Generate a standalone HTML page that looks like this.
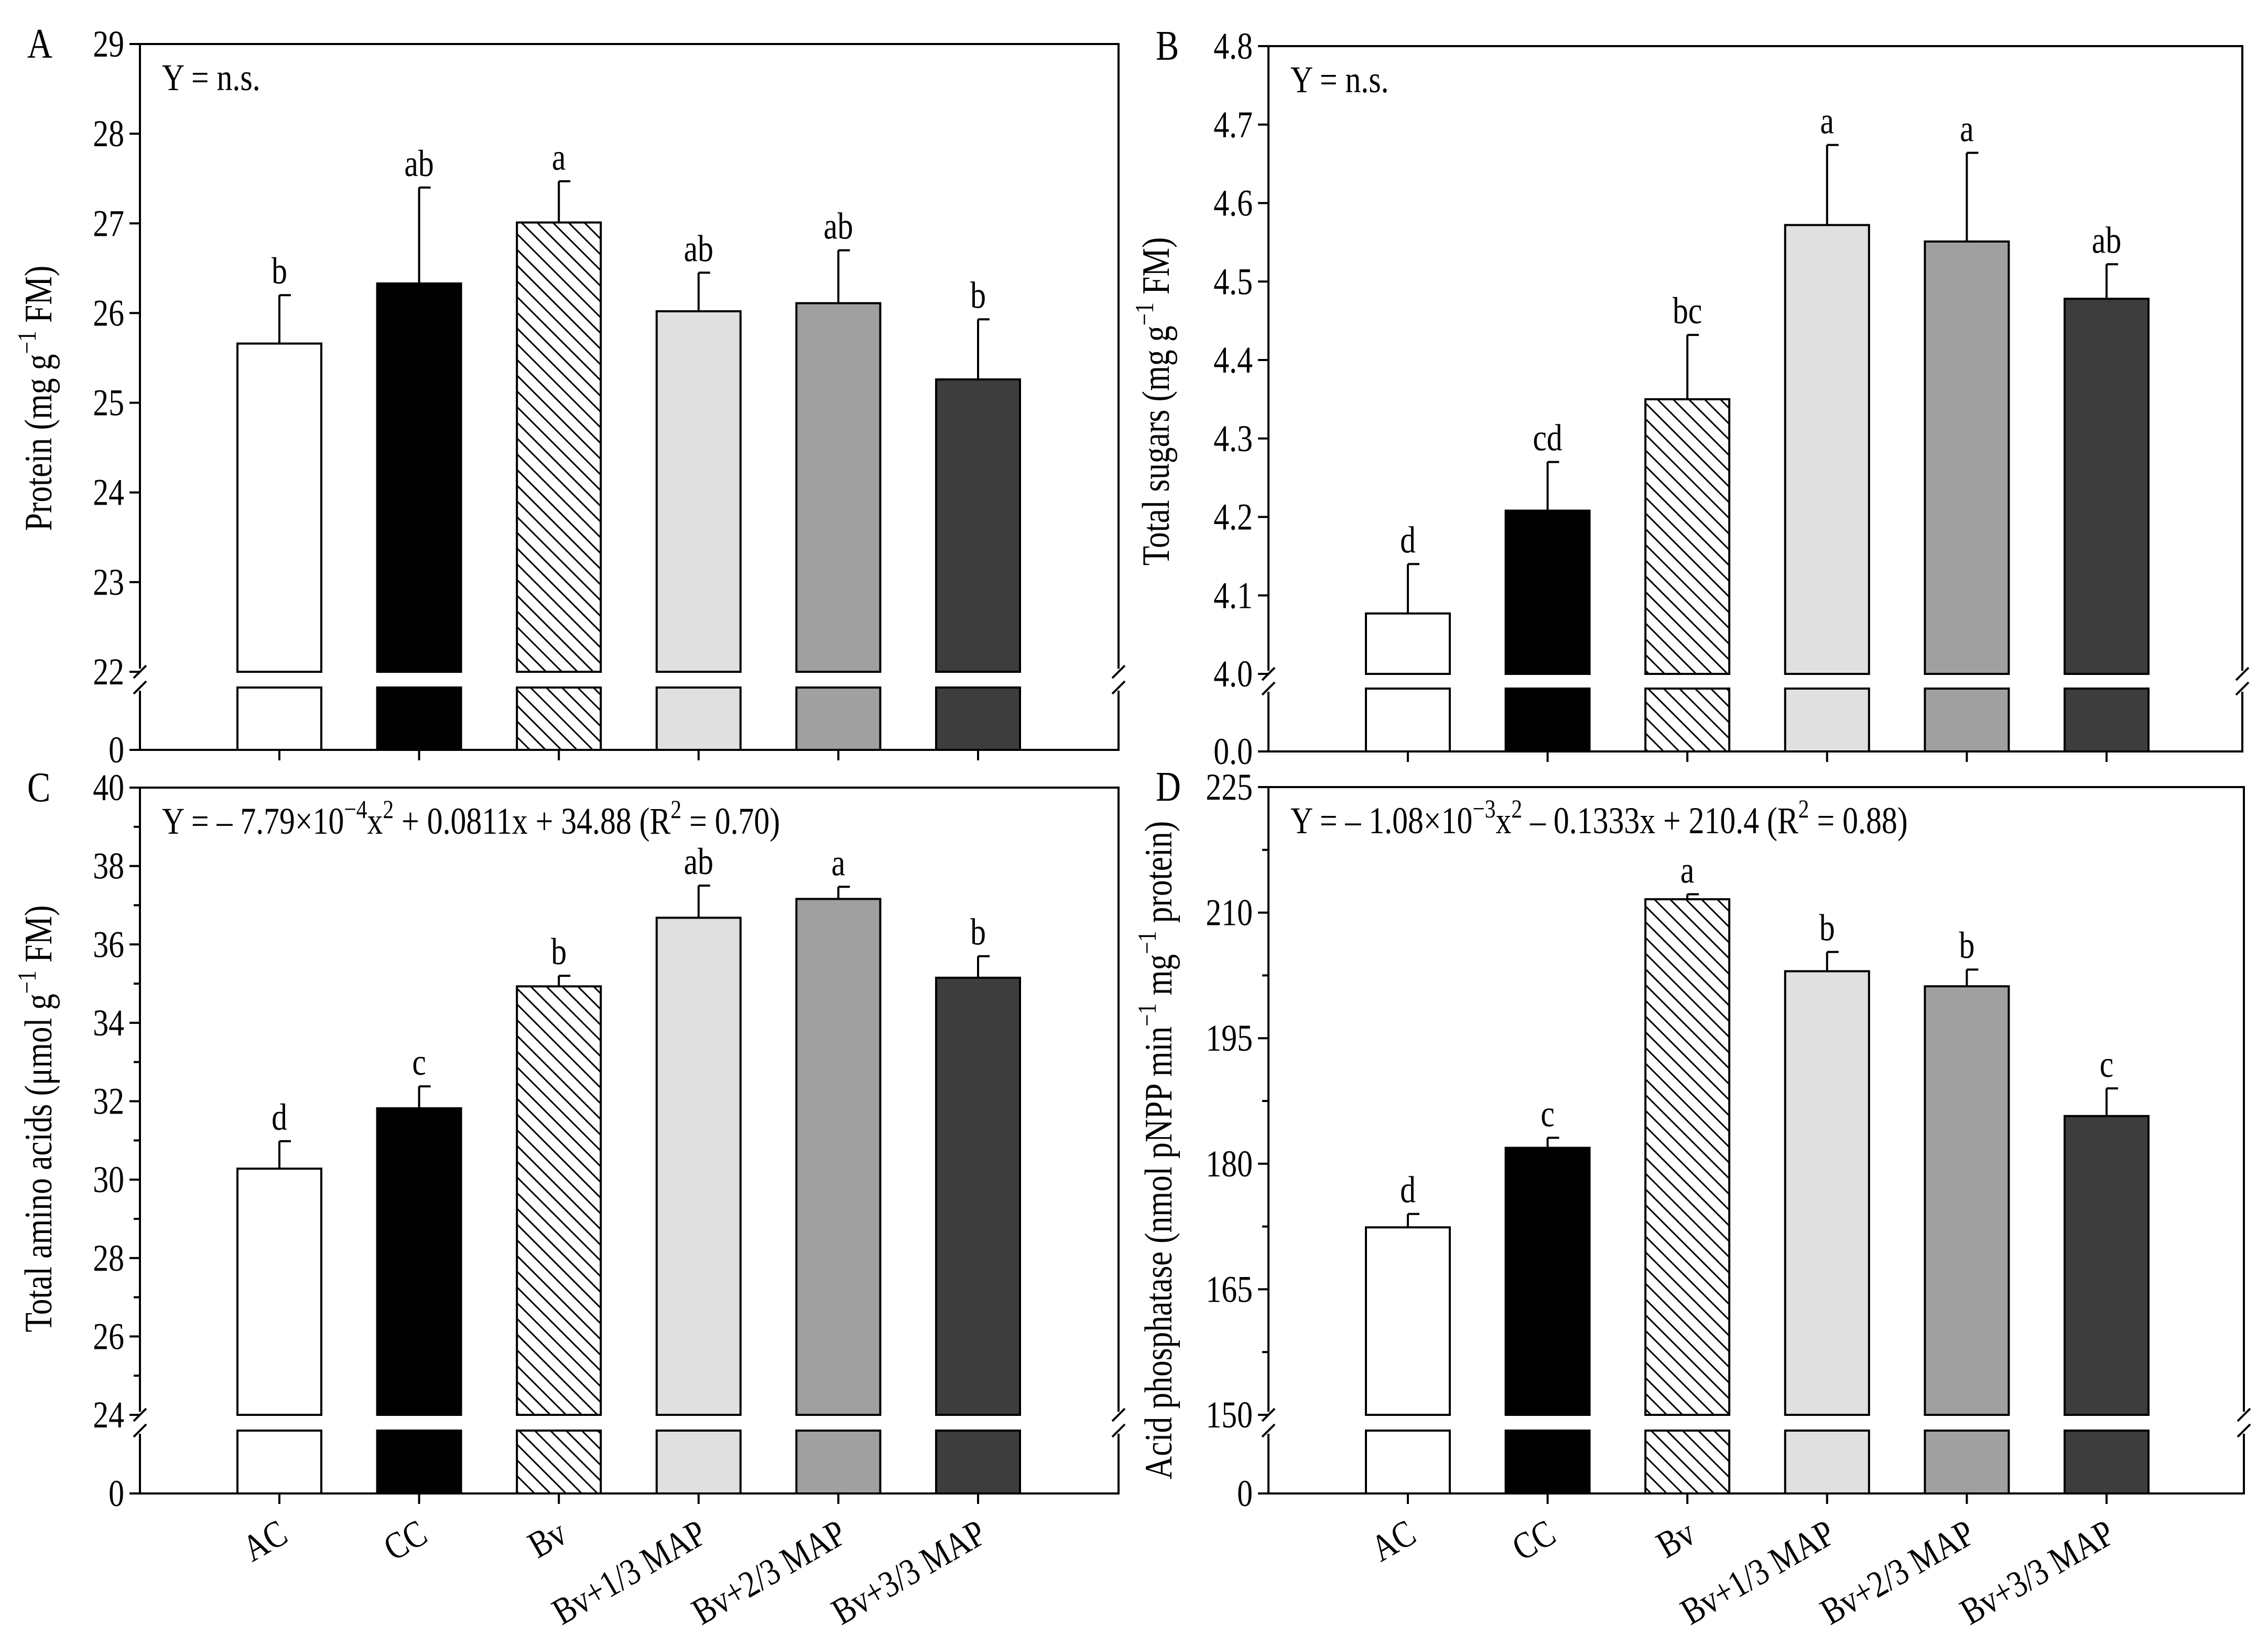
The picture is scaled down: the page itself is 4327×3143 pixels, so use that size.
<!DOCTYPE html>
<html><head><meta charset="utf-8"><style>
html,body{margin:0;padding:0;background:#fff}
svg{display:block;font-family:"Liberation Serif",serif}
</style></head><body>
<svg id="fig" width="4327" height="3143" viewBox="0 0 4327 3143" xmlns="http://www.w3.org/2000/svg">
<defs>
<pattern id="hatch" patternUnits="userSpaceOnUse" width="30" height="30">
<line x1="-5" y1="-5" x2="35" y2="35" stroke="#000" stroke-width="3"/>
<line x1="-35" y1="-5" x2="5" y2="35" stroke="#000" stroke-width="3"/>
<line x1="25" y1="-5" x2="65" y2="35" stroke="#000" stroke-width="3"/>
</pattern>
</defs>
</svg>
<script>
const categories = ["AC","CC","Bv","Bv+1/3 MAP","Bv+2/3 MAP","Bv+3/3 MAP"];
const proteinMeans = [25.66,26.33,27.01,26.02,26.11,25.26];
const proteinErr = [0.54,1.07,0.46,0.43,0.59,0.67];
const proteinLetters = ["b","ab","a","ab","ab","b"];
const sugarMeans = [4.077,4.208,4.350,4.572,4.551,4.478];
const sugarErr = [0.063,0.062,0.082,0.102,0.113,0.044];
const sugarLetters = ["d","cd","bc","a","a","ab"];
const aminoMeans = [30.28,31.82,34.93,36.68,37.16,35.15];
const aminoErr = [0.70,0.56,0.27,0.82,0.31,0.55];
const aminoLetters = ["d","c","b","ab","a","b"];
const phosMeans = [172.4,181.9,211.6,203.0,201.2,185.7];
const phosErr = [1.6,1.2,0.6,2.3,2.0,3.3];
const phosLetters = ["d","c","a","b","b","c"];
const proteinTicks = [22,23,24,25,26,27,28,29];
const sugarTicks = [4.0,4.1,4.2,4.3,4.4,4.5,4.6,4.7,4.8];
const aminoTicks = [24,26,28,30,32,34,36,38,40];
const aminoMinor = [25,27,29,31,33,35,37,39];
const phosTicks = [150,165,180,195,210,225];
const phosMinor = [157.5,172.5,187.5,202.5,217.5];

const fills = ["#ffffff","#000000","url(#hatch)","#e0e0e0","#a0a0a0","#3d3d3d"];
const NS = "http://www.w3.org/2000/svg";
const svg = document.getElementById('fig');
const FS = 72, SX = 0.83;
function el(tag, attrs, parent, text){
  const e = document.createElementNS(NS, tag);
  for (const k in attrs) e.setAttribute(k, attrs[k]);
  if (text !== undefined) e.textContent = text;
  (parent||svg).appendChild(e);
  return e;
}
function txt(parent, x, y, anchor, content, rot, size){
  const t = el('text', {x: 0, y: 0, 'font-size': size || FS, 'text-anchor': anchor,
    transform: `translate(${x} ${y}) rotate(${rot || 0}) scale(${SX} 1)`}, parent);
  t.innerHTML = content;
  return t;
}
const sup = s => `<tspan dy="-30" font-size="50">${s}</tspan>`;
const down = s => `<tspan dy="30">${s}</tspan>`;
function drawPanel(p){
  const g = el('g', {});
  
  
  const yv = v => p.yBrk - (v - p.min) / (p.max - p.min) * (p.yBrk - p.yTop);
  const xc = i => p.x0 + 266 + i * 266.6;
  const bw = 160;
  const sw = 4;
  p.means.forEach((m, i) => {
    const r = el('rect', {x: xc(i) - bw/2, y: yv(m), width: bw, height: p.yBrk - yv(m), fill: fills[i], stroke: '#000', 'stroke-width': sw}, g);
    
    
    const r2 = el('rect', {x: xc(i) - bw/2, y: p.yLow, width: bw, height: p.y0 - p.yLow, fill: fills[i], stroke: '#000', 'stroke-width': sw}, g);
    
    
    const top = yv(m + p.err[i]);
    const eb = el('path', {d: `M${xc(i)},${yv(m)}V${top}M${xc(i)},${top}h22`, stroke: '#000', 'stroke-width': 4, fill: 'none'}, g);
    
    
    const t = txt(g, xc(i), top - 22, 'middle', p.letters[i]);
    
    
  });
  const ax = el('path', {d: `M${p.x0},${p.yBrk - 6}V${p.yTop}H${p.x1}V${p.yBrk - 6}M${p.x0},${p.yLow + 6}V${p.y0}H${p.x1}V${p.yLow + 6}M${p.x0 - 20},${p.y0}H${p.x0}`, stroke: '#000', 'stroke-width': 4, fill: 'none'}, g);
  
  
  [p.x0, p.x1].forEach(x => {
    [p.yBrk, p.yLow].forEach(y => {
      const s = el('line', {x1: x - 12, y1: y + 12, x2: x + 12, y2: y - 12, stroke: '#000', 'stroke-width': 4}, g);
      
      
    });
  });
  p.ticks.forEach(v => {
    const y = yv(v);
    const tk = el('line', {x1: p.x0 - 20, y1: y, x2: p.x0, y2: y, stroke: '#000', 'stroke-width': 4}, g);
    
    
    const lb = txt(g, p.x0 - 30, y + 24, 'end', p.fmt(v));
    
    
  });
  (p.minor || []).forEach(v => {
    const y = yv(v);
    const tk = el('line', {x1: p.x0 - 12, y1: y, x2: p.x0, y2: y, stroke: '#000', 'stroke-width': 4}, g);
    
    
  });
  const z = txt(g, p.x0 - 30, p.y0 + 24, 'end', p.zero);
  
  
  categories.forEach((c, i) => {
    const tk = el('line', {x1: xc(i), y1: p.y0, x2: xc(i), y2: p.y0 + 20, stroke: '#000', 'stroke-width': 4}, g);
    
    
    if (p.xlabels) {
      const lb = txt(g, xc(i) + 20, p.y0 + 90, 'end', c, -30);
      
      
    }
  });
  const L = txt(g, p.x0 - 215, p.yTop + 26, 'start', p.letter, 0, 80);
  
  
  const eq = txt(g, p.x0 + 42, p.yTop + 88, 'start', p.eq);
  
  
  const yl = txt(g, p.labelX, p.labelY, 'middle', p.ylabel, -90, 74);
  
  
}
drawPanel({name:'panel-a-protein', letter:'A', x0:267, x1:2134, yTop:84, yBrk:1282, yLow:1312, y0:1431, min:22, max:29,
  means:proteinMeans, err:proteinErr, letters:proteinLetters, ticks:proteinTicks, fmt:v=>String(v), zero:'0',
  eq:'Y = n.s.', labelX:98, labelY:760, ylabel:`Protein (mg g${sup('−1')}${down(' FM)')}`});
drawPanel({name:'panel-b-sugars', letter:'B', x0:2420, x1:4278, yTop:88, yBrk:1286, yLow:1314, y0:1434, min:4.0, max:4.8,
  means:sugarMeans, err:sugarErr, letters:sugarLetters, ticks:sugarTicks, fmt:v=>v.toFixed(1), zero:'0.0',
  eq:'Y = n.s.', labelX:2230, labelY:766, ylabel:`Total sugars (mg g${sup('−1')}${down(' FM)')}`});
drawPanel({name:'panel-c-amino-acids', letter:'C', x0:267, x1:2134, yTop:1503, yBrk:2700, yLow:2730, y0:2850, min:24, max:40,
  means:aminoMeans, err:aminoErr, letters:aminoLetters, ticks:aminoTicks, minor:aminoMinor, fmt:v=>String(v), zero:'0', xlabels:true,
  eq:`Y = – 7.79×10${sup('−4')}${down('x')}${sup('2')}${down(' + 0.0811x + 34.88 (R')}${sup('2')}${down(' = 0.70)')}`,
  labelX:98, labelY:2135, ylabel:`Total amino acids (μmol g${sup('−1')}${down(' FM)')}`});
drawPanel({name:'panel-d-acid-phosphatase', letter:'D', x0:2420, x1:4281, yTop:1502, yBrk:2700, yLow:2730, y0:2850, min:150, max:225,
  means:phosMeans, err:phosErr, letters:phosLetters, ticks:phosTicks, minor:phosMinor, fmt:v=>String(v), zero:'0', xlabels:true,
  eq:`Y = – 1.08×10${sup('−3')}${down('x')}${sup('2')}${down(' – 0.1333x + 210.4 (R')}${sup('2')}${down(' = 0.88)')}`,
  labelX:2235, labelY:2195, ylabel:`Acid phosphatase (nmol pNPP min${sup('−1')}${down(' mg')}${sup('−1')}${down(' protein)')}`});
</script>
</body></html>
